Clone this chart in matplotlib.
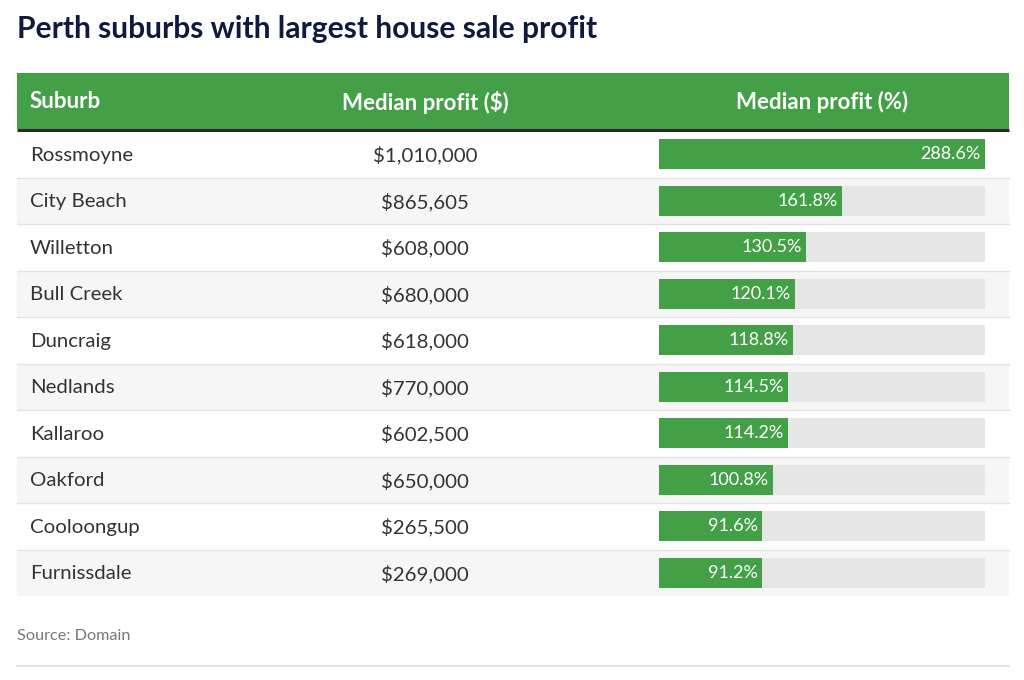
import matplotlib
matplotlib.use("Agg")
import matplotlib.pyplot as plt
from matplotlib.patches import Rectangle

suburbs = ["Rossmoyne", "City Beach", "Willetton", "Bull Creek", "Duncraig",
           "Nedlands", "Kallaroo", "Oakford", "Cooloongup", "Furnissdale"]
profit_dollars = ["$1,010,000", "$865,605", "$608,000", "$680,000", "$618,000",
                  "$770,000", "$602,500", "$650,000", "$265,500", "$269,000"]
profit_pct = [288.6, 161.8, 130.5, 120.1, 118.8, 114.5, 114.2, 100.8, 91.6, 91.2]
headers = ["Suburb", "Median profit ($)", "Median profit (%)"]

GREEN = "#43a047"
TRACK = "#e6e6e6"
NAVY = "#0f1a3c"
TEXT = "#333333"

plt.rcParams['font.family'] = ['Lato', 'DejaVu Sans']

W, H = 1024, 680
fig = plt.figure(figsize=(W / 100, H / 100), dpi=100)
ax = fig.add_axes([0, 0, 1, 1])
ax.set_xlim(0, W)
ax.set_ylim(H, 0)
ax.axis("off")

left, right = 17, 1009
head_top, head_bot = 73, 129
row_top, row_h = 131, 46.5
n = len(suburbs)

# title
ax.text(left, 29, "Perth suburbs with largest house sale profit", fontsize=21.6,
        fontweight="bold", color=NAVY, va="center", ha="left")

# header band
ax.add_patch(Rectangle((left, head_top), right - left, head_bot - head_top, color=GREEN, lw=0))
ax.plot([left, right], [head_bot + 1, head_bot + 1], color="#2b2b2b", lw=2.2, solid_capstyle="butt")
hy = (head_top + head_bot) / 2 + 1
ax.text(30, hy, headers[0], color="white", fontsize=16, fontweight="bold", va="center", ha="left")
ax.text(425, hy, headers[1], color="white", fontsize=16, fontweight="bold", va="center", ha="center")
ax.text(822, hy, headers[2], color="white", fontsize=16, fontweight="bold", va="center", ha="center")

# rows
for i, (name, dollars) in enumerate(zip(suburbs, profit_dollars)):
    y0 = row_top + i * row_h
    if i % 2 == 1:
        ax.add_patch(Rectangle((left, y0), right - left, row_h, color="#f6f6f6", lw=0))
    if i > 0:
        ax.plot([left, right], [y0, y0], color="#e2e2e2", lw=1)
    yc = y0 + row_h / 2 + 1
    ax.text(30, yc, name, color=TEXT, fontsize=14.7, va="center", ha="left")
    ax.text(425, yc, dollars, color=TEXT, fontsize=14.7, va="center", ha="center")

# source and bottom rule
ax.text(left, 636, "Source: Domain", color="#777777", fontsize=11.7, va="center", ha="left")
ax.plot([left, right], [666, 666], color="#dddddd", lw=1.2)

# bar column in its own axes
bx0, bx1 = 659, 985
by0, by1 = row_top, row_top + n * row_h
bax = fig.add_axes([bx0 / W, 1 - by1 / H, (bx1 - bx0) / W, (by1 - by0) / H])
bax.set_facecolor("none")
bax.axis("off")
vmax = max(profit_pct)
ypos = list(range(n))
bax.barh(ypos, [vmax] * n, height=0.645, color=TRACK, lw=0)
bax.barh(ypos, profit_pct, height=0.645, color=GREEN, lw=0)
bax.set_xlim(0, vmax)
bax.set_ylim(n - 0.5, -0.5)
for yv, v in zip(ypos, profit_pct):
    bax.annotate(f"{v:.1f}%", (v, yv), xytext=(-3, 0), textcoords="offset points",
                 ha="right", va="center", color="white", fontsize=13)

fig.savefig("out.png", dpi=100)
